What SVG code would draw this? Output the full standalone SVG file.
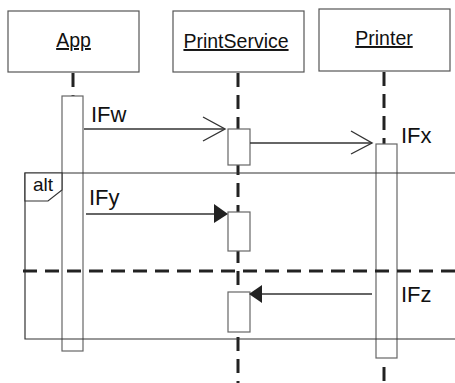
<svg xmlns="http://www.w3.org/2000/svg" width="455" height="383" viewBox="0 0 455 383">
<style>
.box{fill:#fff;stroke:#555;stroke-width:1.2}
.act{fill:#fff;stroke:#666;stroke-width:1.2}
.life{stroke:#222;stroke-width:3;stroke-dasharray:14,8;fill:none}
.msg{stroke:#333;stroke-width:1.4;fill:none}
.frame{stroke:#333;stroke-width:1.2;fill:none}
.name{font-family:"Liberation Sans",Arial,sans-serif;font-size:19.5px;fill:#111;text-anchor:middle;text-decoration:underline}
.lbl{font-family:"Liberation Sans",Arial,sans-serif;font-size:22px;fill:#111}
.alt{font-family:"Liberation Sans",Arial,sans-serif;font-size:19px;fill:#111}
</style>
<rect width="455" height="383" fill="#fff"/>
<g id="lifelines">
<line class="life" x1="73" y1="73" x2="73" y2="96" stroke-dasharray="10,6"/>
<line class="life" x1="238" y1="73" x2="238" y2="383"/>
<line class="life" x1="384" y1="72" x2="384" y2="144" stroke-dasharray="18,8"/>
<line class="life" x1="384" y1="367" x2="384" y2="383"/>
</g>
<g id="App">
<rect class="box" x="8" y="11" width="131" height="61"/>
<text class="name" x="73.5" y="47">App</text>
<rect class="act" x="62" y="96" width="21" height="255"/>
</g>
<g id="PrintService">
<rect class="box" x="173" y="11" width="131" height="61"/>
<text class="name" x="236" y="48">PrintService</text>
<rect class="act" x="228" y="129" width="22" height="36"/>
<rect class="act" x="228" y="212" width="22" height="39"/>
<rect class="act" x="228" y="292" width="22" height="40"/>
</g>
<g id="Printer">
<rect class="box" x="319" y="9" width="131" height="62"/>
<text class="name" x="384" y="45">Printer</text>
<rect class="act" x="376" y="144" width="21" height="214"/>
</g>
<g id="alt-frame">
<path class="frame" d="M456,173 H25 V339 H456"/>
<path d="M25,173 H62 V190 L48,201 H25 Z" fill="#fff" stroke="#333" stroke-width="1.2"/>
<text class="alt" x="33" y="191">alt</text>
<line x1="23" y1="271" x2="456" y2="271" stroke="#222" stroke-width="3" stroke-dasharray="14,8"/>
</g>
<g id="connectors">
<line class="msg" x1="84" y1="129" x2="224" y2="129"/>
<polyline class="msg" points="203,117 225,129 203,141"/>
<line class="msg" x1="250" y1="143" x2="372" y2="143"/>
<polyline class="msg" points="351,131 372,143 351,154"/>
<line class="msg" x1="86" y1="214" x2="216" y2="214"/>
<polygon points="214,204 228,214 214,223" fill="#222"/>
<line class="msg" x1="372" y1="294" x2="260" y2="294"/>
<polygon points="249,294 262,285 262,303" fill="#222"/>
<text class="lbl" x="91" y="122">IFw</text>
<text class="lbl" x="401" y="143">IFx</text>
<text class="lbl" x="89" y="205">IFy</text>
<text class="lbl" x="401" y="302">IFz</text>
</g>
</svg>
